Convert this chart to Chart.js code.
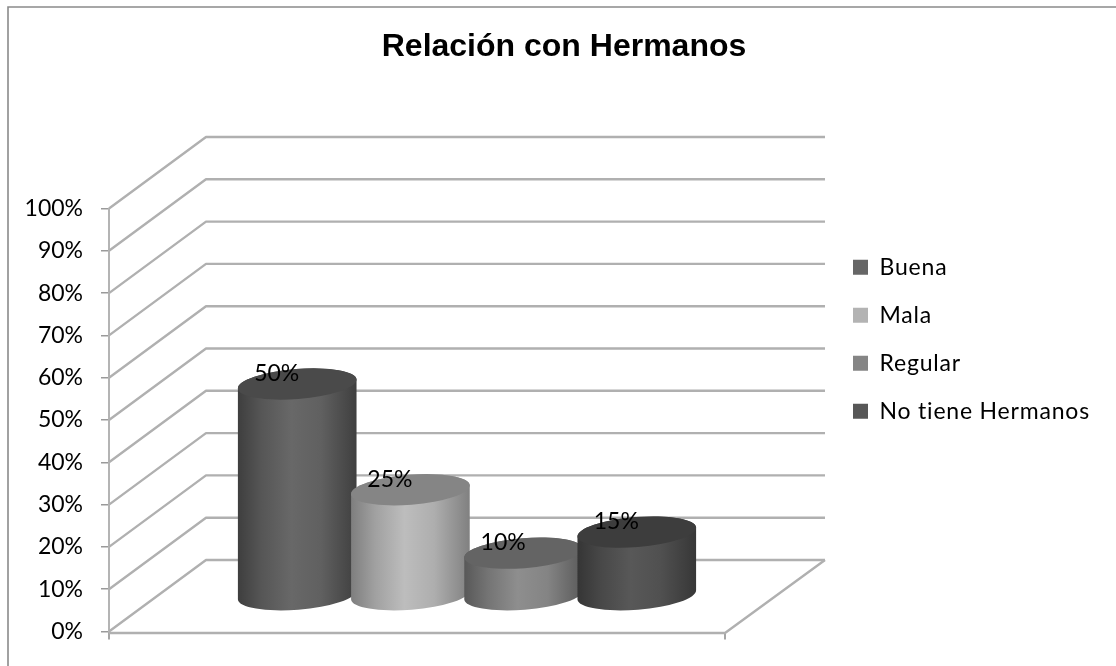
<!DOCTYPE html>
<html><head><meta charset="utf-8">
<style>html,body{margin:0;padding:0;background:#fff}#w{position:relative;width:1116px;height:666px;overflow:hidden}
canvas{display:block}</style>
<script src="https://cdn.jsdelivr.net/npm/chart.js@4"></script></head>
<body><div id="w"><canvas id="c" width="1116" height="666"></canvas></div>
<script>
const categories = ['Relación con Hermanos'];
const seriesNames = ['Buena', 'Mala', 'Regular', 'No tiene Hermanos'];
const buena = [50];
const mala = [25];
const regular = [10];
const noTiene = [15];
const seriesValues = [buena, mala, regular, noTiene];
const legendColors = ['#666666', '#b3b3b3', '#858585', '#575757'];
const tickValues = [0,10,20,30,40,50,60,70,80,90,100];

const bodyStops = [
  ['#3e3e3e','#565656','#686868','#606060','#3f3f3f'],
  ['#7e7e7e','#a0a0a0','#bdbdbd','#aeaeae','#808080'],
  ['#585858','#747474','#8e8e8e','#848484','#5a5a5a'],
  ['#353535','#484848','#585858','#505050','#373737']
];
const capColors = ['#4a4a4a','#858585','#646464','#3d3d3d'];
const DEPTH_X = 97, DEPTH_Y = 71.5, RX = 59.5, RY = 15, TILT = -4.5*Math.PI/180;
const BAR_SHIFT_X = 50, BAR_SHIFT_Y = 36;
const WALL_RIGHT = 825;
const GRID = '#b0b0b0';

const chrome = {
  id:'chrome',
  beforeDraw(ch){
    const c = ch.ctx; c.save();
    c.strokeStyle='#8a8a8a'; c.lineWidth=1.6;
    c.beginPath(); c.moveTo(8,666); c.lineTo(8,7); c.lineTo(1116,7); c.stroke();
    c.restore();
  },
  beforeDatasetsDraw(ch){
    const c = ch.ctx, y = ch.scales.y, a = ch.chartArea;
    c.save(); c.strokeStyle=GRID; c.lineWidth=2.4; c.filter='blur(0.5px)'; c.lineJoin='round';
    tickValues.forEach(v=>{
      const p = y.getPixelForValue(v);
      c.beginPath(); c.moveTo(a.left,p); c.lineTo(a.left+DEPTH_X,p-DEPTH_Y); c.lineTo(WALL_RIGHT,p-DEPTH_Y); c.stroke();
    });
    const p0 = y.getPixelForValue(0)+1.5;
    c.beginPath(); c.moveTo(a.left,p0); c.lineTo(a.right,p0); c.lineTo(WALL_RIGHT,p0-DEPTH_Y-1.5); c.stroke();
    c.restore();
  },
  beforeDatasetDraw(){ return false; },
  afterDatasetsDraw(ch){
    const c = ch.ctx;
    const bars = seriesValues.map((v,i)=>ch.getDatasetMeta(i).data[0]);
    c.save(); c.filter='blur(0.6px)';
    bars.forEach((b,i)=>{
      const cx = b.x + BAR_SHIFT_X, yt = b.y - BAR_SHIFT_Y, yb = b.base - BAR_SHIFT_Y;
      const g = c.createLinearGradient(cx-RX,0,cx+RX,0);
      bodyStops[i].forEach((s,k)=>g.addColorStop([0,0.2,0.45,0.7,1][k],s));
      c.fillStyle=g;
      c.beginPath();
      c.ellipse(cx,yb,RX,RY,TILT,0,Math.PI,false);
      c.ellipse(cx,yt,RX,RY,TILT,Math.PI,2*Math.PI,false);
      c.closePath(); c.fill();
      c.fillStyle=capColors[i];
      c.beginPath(); c.ellipse(cx,yt,RX,RY,TILT,0,2*Math.PI); c.fill();
    });
    c.restore();
    c.save();
    c.fillStyle='#000'; c.font='23px Lato'; c.textAlign='center'; c.textBaseline='middle';
    bars.forEach((b,i)=>{
      c.fillText(seriesValues[i][0]+'%', b.x+BAR_SHIFT_X-20.5, b.y-BAR_SHIFT_Y-10.5);
    });
    c.restore();
  },
  afterLayout(ch){
    const l = ch.legend;
    const h = l.bottom-l.top;
    l.left = 828; l.right = 1116;
    l.top = 339.2-h/2; l.bottom = l.top+h;
    if(!l._spaced){
      l._spaced = true;
      const d = l.draw;
      l.draw = function(){ ch.ctx.save(); ch.ctx.letterSpacing='0.8px'; d.call(this); ch.ctx.restore(); };
    }
  }
};

new Chart(document.getElementById('c'),{
  type:'bar',
  data:{
    labels:categories,
    datasets:seriesNames.map((n,i)=>({label:n,data:seriesValues[i],backgroundColor:legendColors[i]}))
  },
  plugins:[chrome],
  options:{
    responsive:false,animation:false,
    layout:{padding:{left:12,right:0,top:0,bottom:26.5}},
    datasets:{bar:{categoryPercentage:0.735,barPercentage:1}},
    scales:{
      x:{
        grid:{offset:true,drawOnChartArea:false,tickLength:8,color:'#a6a6a6',lineWidth:2},
        border:{display:false},
        ticks:{display:false}
      },
      y:{
        min:0,max:100,
        afterFit(s){s.width=97;},
        afterBuildTicks(s){s.ticks=tickValues.map(v=>({value:v}));},
        grid:{drawOnChartArea:false,tickLength:8,color:'#9a9a9a',lineWidth:1.5},
        border:{color:'#b4b4b4',width:2},
        ticks:{padding:18,color:'#000',font:{family:'Lato',size:23},callback:v=>v+'%'}
      },
      gap:{
        type:'linear',axis:'y',position:'right',
        afterFit(s){s.width=207;},
        grid:{display:false},border:{display:false},ticks:{display:false}
      }
    },
    plugins:{
      title:{display:true,text:categories[0],color:'#000',
        font:{family:'Liberation Sans',size:32,weight:'bold'},
        padding:{top:27.6,bottom:142.5}},
      legend:{position:'right',
        labels:{color:'#000',font:{family:'Lato',size:23},boxWidth:15,boxHeight:15,padding:25,useBorderRadius:false}},
      tooltip:{enabled:false}
    }
  }
});
</script></body></html>
